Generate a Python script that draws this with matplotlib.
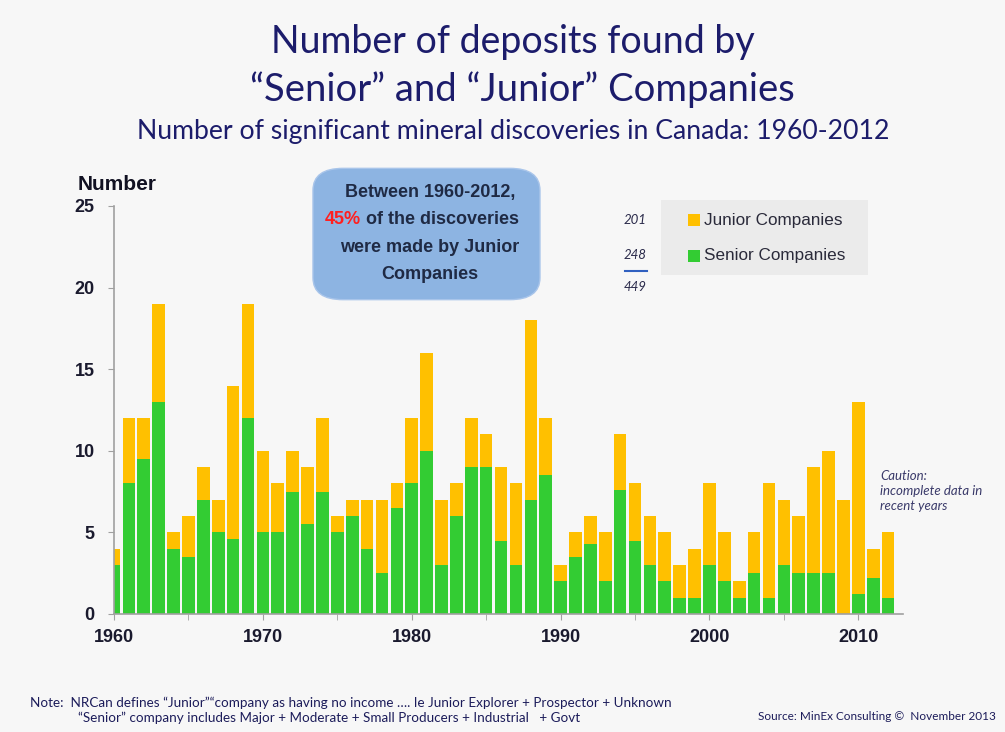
import matplotlib
matplotlib.use('Agg')
import matplotlib.pyplot as plt
from matplotlib.patches import FancyBboxPatch, Rectangle
import numpy as np

years = np.arange(1960, 2013)
totals = [4, 12, 12, 19, 5, 6, 9, 7, 14, 19,
          10, 8, 10, 9, 12, 6, 7, 7, 7, 8,
          12, 16, 7, 8, 12, 11, 9, 8, 18, 12,
          3, 5, 6, 5, 11, 8, 6, 5, 3, 4,
          8, 5, 2, 5, 8, 7, 6, 9, 10, 7,
          13, 4, 5]
senior = [3, 8, 9.5, 13, 4, 3.5, 7, 5, 4.6, 12,
          5, 5, 7.5, 5.5, 7.5, 5, 6, 4, 2.5, 6.5,
          8, 10, 3, 6, 9, 9, 4.5, 3, 7, 8.5,
          2, 3.5, 4.3, 2, 7.6, 4.5, 3, 2, 1, 1,
          3, 2, 1, 2.5, 1, 3, 2.5, 2.5, 2.5, 0,
          1.2, 2.2, 1]
junior = [t - s for t, s in zip(totals, senior)]
yticks = [0, 5, 10, 15, 20, 25]
xticks = [1960, 1970, 1980, 1990, 2000, 2010]
sum_labels = ['201', '248', '449']

W, H = 1005, 732
BG = '#f7f7f7'
NAVY = '#1c1c6b'
ORANGE = '#ffc000'
GREEN = '#33cc33'


def fx(x):
    return x / W


def fy(y):
    return 1 - y / H


fig = plt.figure(figsize=(W / 100, H / 100), dpi=100, facecolor=BG)
ax = fig.add_axes([fx(114), fy(614), fx(903) - fx(114), fy(206) - fy(614)])
ax.set_facecolor(BG)

ax.bar(years, senior, width=0.85, color=GREEN, edgecolor='none')
ax.bar(years, junior, width=0.85, bottom=senior, color=ORANGE, edgecolor='none')

ax.set_xlim(1960, 2013)
ax.set_ylim(0, 25)
ax.set_yticks(yticks)
ax.set_xticks(xticks)
ax.set_xticks(np.arange(1960, 2013, 5), minor=True)
for s in ['top', 'right']:
    ax.spines[s].set_visible(False)
for s in ['left', 'bottom']:
    ax.spines[s].set_color('#a0a0a0')
    ax.spines[s].set_linewidth(1.2)
ax.tick_params(axis='both', which='both', color='#a0a0a0', length=4, direction='out')
ax.tick_params(axis='y', pad=10)
ax.tick_params(axis='x', which='major', pad=7)
for lab in ax.get_xticklabels() + ax.get_yticklabels():
    lab.set_fontfamily('Liberation Sans')
    lab.set_fontweight('bold')
    lab.set_fontsize(13)
    lab.set_color('#1a1a2e')

# titles
fig.text(fx(513), fy(42), 'Number of deposits found by', ha='center', va='center',
         fontsize=27, color=NAVY, family='Lato')
fig.text(fx(522), fy(90), '\u201cSenior\u201d and \u201cJunior\u201d Companies', ha='center', va='center',
         fontsize=27.5, color=NAVY, family='Lato')
fig.text(fx(513), fy(132), 'Number of significant mineral discoveries in Canada: 1960-2012',
         ha='center', va='center', fontsize=19.2, color=NAVY, family='Lato')

fig.text(fx(78), fy(184), 'Number', ha='left', va='center', fontsize=15, fontweight='bold',
         color='#111122', family='Liberation Sans')

# annotation box
box = FancyBboxPatch((fx(318), fy(296)), fx(545) - fx(318) - 0.01, fy(172) - fy(296),
                     boxstyle='round,pad=0.005,rounding_size=0.03', transform=fig.transFigure,
                     facecolor='#8db4e2', edgecolor='#a9c5ea', linewidth=1)
fig.patches.append(box)
tk = dict(fontsize=13, fontweight='bold', family='Liberation Sans', va='center', color='#1f2a44')
fig.text(fx(430), fy(192), 'Between 1960-2012,', ha='center', **tk)
fig.text(fx(325), fy(220), '45%', ha='left', **dict(tk, color='#ff2020'))
fig.text(fx(366), fy(220), 'of the discoveries', ha='left', **tk)
fig.text(fx(430), fy(247), 'were made by Junior', ha='center', **tk)
fig.text(fx(430), fy(274), 'Companies', ha='center', **tk)

# sums
for lbl, yy in zip(sum_labels, [220, 255, 287]):
    fig.text(fx(635), fy(yy), lbl, ha='center', va='center', fontsize=9.5, style='italic',
             color='#2a2a4a', family='Lato')
fig.add_artist(plt.Line2D([fx(625), fx(647)], [fy(271), fy(271)], color='#3060c0', lw=1.5))

# legend
fig.patches.append(Rectangle((fx(661), fy(275)), fx(868) - fx(661), fy(200) - fy(275),
                             transform=fig.transFigure, facecolor='#ebebeb', edgecolor='none'))
for col, lbl, yy in [(ORANGE, 'Junior Companies', 220), (GREEN, 'Senior Companies', 256)]:
    fig.patches.append(Rectangle((fx(688), fy(yy + 6)), fx(12), fy(0) - fy(12),
                                 transform=fig.transFigure, facecolor=col, edgecolor='none'))
    fig.text(fx(704), fy(yy), lbl, ha='left', va='center', fontsize=12.3, color='#2a2a3a',
             family='Liberation Sans')

# caution
fig.text(fx(880), fy(491), 'Caution:\nincomplete data in\nrecent years', ha='left', va='center',
         fontsize=9.5, style='italic', color='#3a3a6a', family='Lato', linespacing=1.25)

# notes
nk = dict(color='#1c1c5a', family='Lato', va='center')
fig.text(fx(30), fy(703), 'Note:  NRCan defines \u201cJunior\u201d\u201ccompany as having no income \u2026. Ie Junior Explorer + Prospector + Unknown',
         ha='left', fontsize=9.7, **nk)
fig.text(fx(78), fy(718), '\u201cSenior\u201d company includes Major + Moderate + Small Producers + Industrial   + Govt',
         ha='left', fontsize=9.7, **nk)
fig.text(fx(758), fy(716), 'Source: MinEx Consulting \u00a9  November 2013', ha='left', fontsize=8.5, **nk)

fig.savefig('out.png', dpi=100, facecolor=BG)
